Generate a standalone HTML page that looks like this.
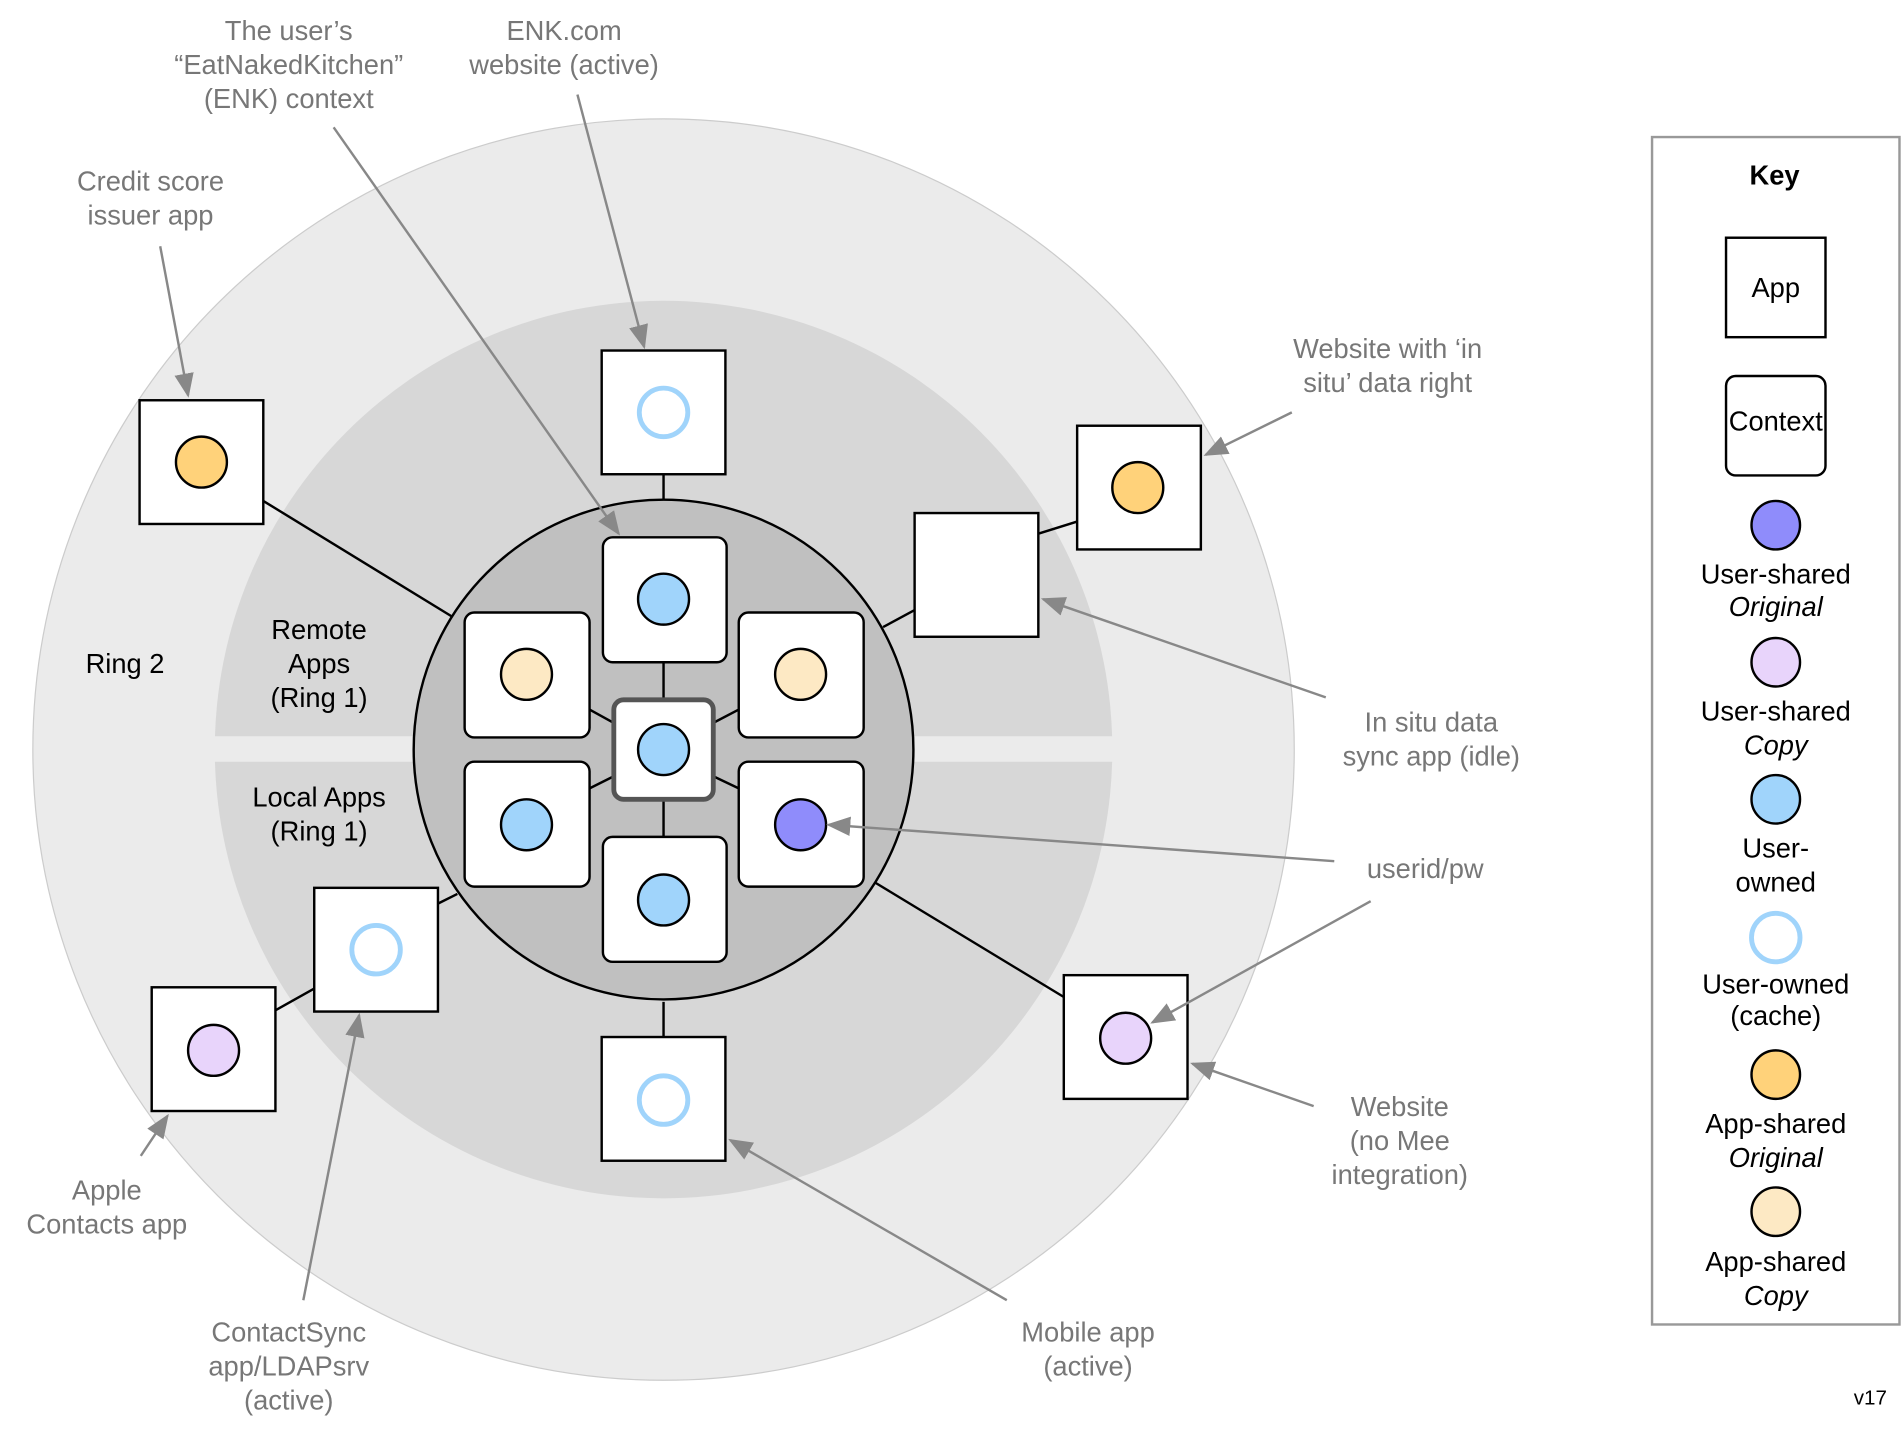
<!DOCTYPE html>
<html><head><meta charset="utf-8"><style>
html,body{margin:0;padding:0;background:#fff;}
svg{display:block;}
text{font-family:"Liberation Sans",sans-serif;}
.g{fill:#777;font-size:22.5px;text-anchor:middle;}
.k{fill:#000;font-size:22.5px;text-anchor:middle;}
</style></head><body>
<svg width="1902" height="1430" viewBox="0 0 1568 1179" xmlns="http://www.w3.org/2000/svg">
<defs>
<marker id="b" markerWidth="20" markerHeight="20" refX="18" refY="10" orient="auto" markerUnits="userSpaceOnUse" viewBox="0 0 20 20">
<path d="M0,2 L20,10 L0,18 z" fill="#888"/></marker>
<clipPath id="up"><rect x="0" y="0" width="1200" height="607"/></clipPath>
<clipPath id="dn"><rect x="0" y="628" width="1200" height="600"/></clipPath>
</defs>
<rect width="1568" height="1179" fill="#fff"/>
<circle cx="547" cy="618" r="520" fill="#ebebeb" stroke="#ccc" stroke-width="1"/>
<circle cx="547" cy="618" r="370" fill="#d7d7d7" clip-path="url(#up)"/>
<circle cx="547" cy="618" r="370" fill="#d7d7d7" clip-path="url(#dn)"/>
<g stroke="#000" stroke-width="2">
<line x1="547" y1="391" x2="547" y2="412"/>
<line x1="217" y1="413" x2="372" y2="508"/>
<line x1="728" y1="517" x2="754" y2="503"/>
<line x1="856" y1="440" x2="888" y2="430"/>
<line x1="361" y1="745" x2="377" y2="737"/>
<line x1="227" y1="833" x2="259" y2="815"/>
<line x1="547" y1="826" x2="547" y2="855"/>
<line x1="722" y1="728" x2="877" y2="822"/>
</g>
<circle cx="547" cy="618" r="206" fill="#c0c0c0" stroke="#000" stroke-width="2"/>
<g stroke="#000" stroke-width="2">
<line x1="547" y1="546" x2="547" y2="577"/>
<line x1="547" y1="659" x2="547" y2="690"/>
<line x1="486" y1="585" x2="506" y2="596"/>
<line x1="588" y1="596" x2="609" y2="585"/>
<line x1="486" y1="650" x2="506" y2="640"/>
<line x1="588" y1="640" x2="609" y2="650"/>
</g>
<g fill="#fff" stroke="#000" stroke-width="2">
<rect x="497" y="443" width="102" height="103" rx="8"/>
<rect x="383" y="505" width="103" height="103" rx="8"/>
<rect x="609" y="505" width="103" height="103" rx="8"/>
<rect x="383" y="628" width="103" height="103" rx="8"/>
<rect x="609" y="628" width="103" height="103" rx="8"/>
<rect x="497" y="690" width="102" height="103" rx="8"/>
<rect x="496" y="289" width="102" height="102"/>
<rect x="115" y="330" width="102" height="102"/>
<rect x="754" y="423" width="102" height="102"/>
<rect x="888" y="351" width="102" height="102"/>
<rect x="259" y="732" width="102" height="102"/>
<rect x="125" y="814" width="102" height="102"/>
<rect x="496" y="855" width="102" height="102"/>
<rect x="877" y="804" width="102" height="102"/>
</g>
<rect x="506" y="577" width="82" height="82" rx="8" fill="#fff" stroke="#555" stroke-width="4"/>
<g stroke="#000" stroke-width="2">
<circle cx="547" cy="618" r="21" fill="#a0d4fb"/>
<circle cx="547" cy="494" r="21" fill="#a0d4fb"/>
<circle cx="434" cy="556" r="21" fill="#fde9c4"/>
<circle cx="660" cy="556" r="21" fill="#fde9c4"/>
<circle cx="434" cy="680" r="21" fill="#a0d4fb"/>
<circle cx="660" cy="680" r="21" fill="#8f8cfb"/>
<circle cx="547" cy="742" r="21" fill="#a0d4fb"/>
<circle cx="166" cy="381" r="21" fill="#ffd27a"/>
<circle cx="938" cy="402" r="21" fill="#ffd27a"/>
<circle cx="176" cy="866" r="21" fill="#e8d4fb"/>
<circle cx="928" cy="856" r="21" fill="#e8d4fb"/>
</g>
<g fill="#fff" stroke="#a0d4fb" stroke-width="4">
<circle cx="547" cy="340" r="20"/>
<circle cx="310" cy="783" r="20"/>
<circle cx="547" cy="907" r="20"/>
</g>
<text class="k" x="103" y="555">Ring 2</text>
<text class="k" x="263" y="527">Remote</text>
<text class="k" x="263" y="555">Apps</text>
<text class="k" x="263" y="583">(Ring 1)</text>
<text class="k" x="263" y="665">Local Apps</text>
<text class="k" x="263" y="693">(Ring 1)</text>
<g stroke="#888" stroke-width="2" fill="none">
<line x1="132" y1="203" x2="155" y2="326" marker-end="url(#b)"/>
<line x1="275" y1="105" x2="510" y2="440" marker-end="url(#b)"/>
<line x1="476" y1="78" x2="531" y2="286" marker-end="url(#b)"/>
<line x1="1065" y1="340" x2="994" y2="375" marker-end="url(#b)"/>
<line x1="1093" y1="575" x2="860" y2="494" marker-end="url(#b)"/>
<line x1="1100" y1="710" x2="683" y2="680" marker-end="url(#b)"/>
<line x1="1130" y1="743" x2="950" y2="843" marker-end="url(#b)"/>
<line x1="1083" y1="912" x2="983" y2="877" marker-end="url(#b)"/>
<line x1="830" y1="1072" x2="602" y2="940" marker-end="url(#b)"/>
<line x1="250" y1="1072" x2="296" y2="837" marker-end="url(#b)"/>
<line x1="116" y1="953" x2="138" y2="920" marker-end="url(#b)"/>
</g>
<text class="g" x="124" y="157">Credit score</text>
<text class="g" x="124" y="185">issuer app</text>
<text class="g" x="238" y="33">The user’s</text>
<text class="g" x="238" y="61">“EatNakedKitchen”</text>
<text class="g" x="238" y="89">(ENK) context</text>
<text class="g" x="465" y="33">ENK.com</text>
<text class="g" x="465" y="61">website (active)</text>
<text class="g" x="1144" y="295">Website with ‘in</text>
<text class="g" x="1144" y="323">situ’ data right</text>
<text class="g" x="1180" y="603">In situ data</text>
<text class="g" x="1180" y="631">sync app (idle)</text>
<text class="g" x="1175" y="724">userid/pw</text>
<text class="g" x="1154" y="920">Website</text>
<text class="g" x="1154" y="948">(no Mee</text>
<text class="g" x="1154" y="976">integration)</text>
<text class="g" x="897" y="1106">Mobile app</text>
<text class="g" x="897" y="1134">(active)</text>
<text class="g" x="238" y="1106">ContactSync</text>
<text class="g" x="238" y="1134">app/LDAPsrv</text>
<text class="g" x="238" y="1162">(active)</text>
<text class="g" x="88" y="989">Apple</text>
<text class="g" x="88" y="1017">Contacts app</text>
<rect x="1362" y="113" width="204" height="979" fill="#fff" stroke="#999" stroke-width="2"/>
<text class="k" x="1463" y="152" font-weight="bold">Key</text>
<rect x="1423" y="196" width="82" height="82" fill="#fff" stroke="#000" stroke-width="2"/>
<text class="k" x="1464" y="245">App</text>
<rect x="1423" y="310" width="82" height="82" rx="8" fill="#fff" stroke="#000" stroke-width="2"/>
<text class="k" x="1464" y="355" font-size="19">Context</text>
<g stroke="#000" stroke-width="2">
<circle cx="1464" cy="433" r="20" fill="#8f8cfb"/>
<circle cx="1464" cy="546" r="20" fill="#e8d4fb"/>
<circle cx="1464" cy="659" r="20" fill="#a0d4fb"/>
<circle cx="1464" cy="886" r="20" fill="#ffd27a"/>
<circle cx="1464" cy="999" r="20" fill="#fde9c4"/>
</g>
<circle cx="1464" cy="773" r="20" fill="#fff" stroke="#a0d4fb" stroke-width="4"/>
<text class="k" x="1464" y="481">User-shared</text>
<text class="k" x="1464" y="508" font-style="italic">Original</text>
<text class="k" x="1464" y="594">User-shared</text>
<text class="k" x="1464" y="622" font-style="italic">Copy</text>
<text class="k" x="1464" y="707">User-</text>
<text class="k" x="1464" y="735">owned</text>
<text class="k" x="1464" y="819">User-owned</text>
<text class="k" x="1464" y="845">(cache)</text>
<text class="k" x="1464" y="934">App-shared</text>
<text class="k" x="1464" y="962" font-style="italic">Original</text>
<text class="k" x="1464" y="1048">App-shared</text>
<text class="k" x="1464" y="1076" font-style="italic">Copy</text>
<text x="1542" y="1158" font-size="17" text-anchor="middle" fill="#000">v17</text>
</svg>
</body></html>
